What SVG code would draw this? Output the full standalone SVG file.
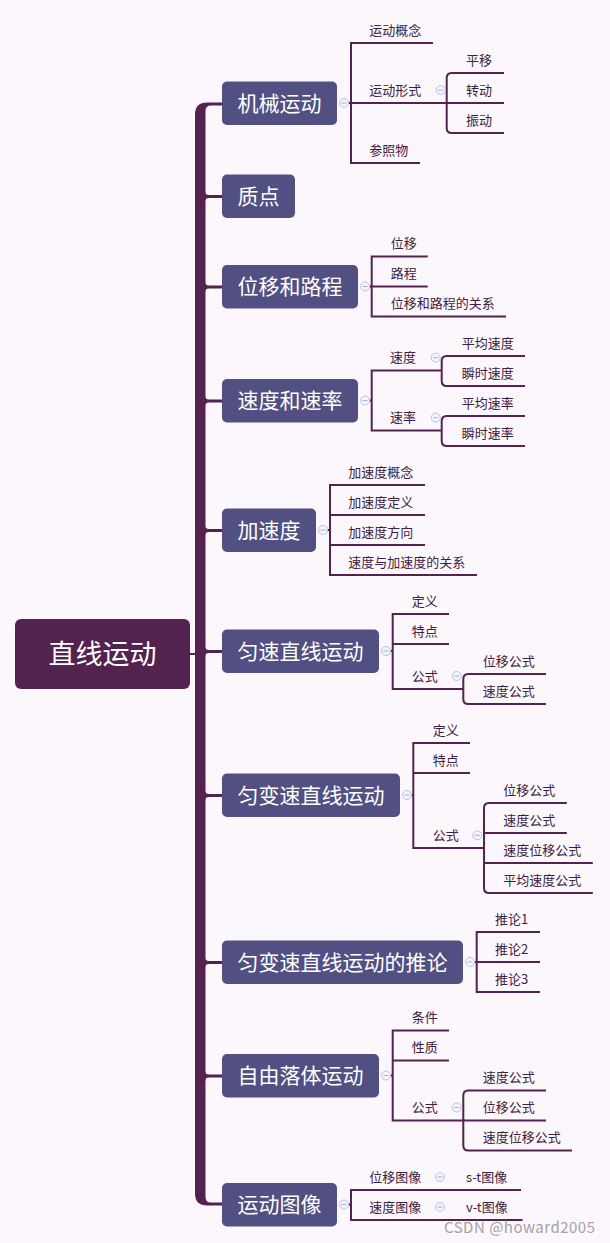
<svg xmlns="http://www.w3.org/2000/svg" width="610" height="1243" viewBox="0 0 610 1243">
<style>
text{font-family:"Noto Sans CJK SC","Noto Sans",sans-serif}
.mb{fill:#525083}
.mt{font-size:21px;fill:#ffffff;text-anchor:middle}
.st{font-size:13px;fill:#3d2240}
.ln{stroke:#53224f;stroke-width:2;fill:none}
.tr{fill:#53224f}
.cc{fill:#f5f4fc;stroke:#b5c5e6;stroke-width:1}
.cm{stroke:#9fb2da;stroke-width:1}
</style>
<defs>
<g id="col"><circle class="cc" cx="0" cy="0" r="4.5"/><line class="cm" x1="-2.5" y1="0" x2="2.5" y2="0"/></g>
</defs>
<rect x="0" y="0" width="610" height="1243" fill="#fcf7fd"/>

<g id="connectors">
<path class="tr" d="M222 102.5 H207 Q195 102.5 195 114.5 V1193.5 Q195 1205.5 207 1205.5 H222 V1202.5 H211 Q205.5 1202.5 205.5 1197 V111 Q205.5 105.5 211 105.5 H222 Z"/>
<path class="tr" d="M205 191 Q205 195 209 195 H222 V198 H209 Q205 198 205 202 Z"/>
<path class="tr" d="M205 281.5 Q205 285.5 209 285.5 H222 V288.5 H209 Q205 288.5 205 292.5 Z"/>
<path class="tr" d="M205 395.5 Q205 399.5 209 399.5 H222 V402.5 H209 Q205 402.5 205 406.5 Z"/>
<path class="tr" d="M205 525 Q205 529 209 529 H222 V532 H209 Q205 532 205 536 Z"/>
<path class="tr" d="M205 646 Q205 650 209 650 H222 V653 H209 Q205 653 205 657 Z"/>
<path class="tr" d="M205 790 Q205 794 209 794 H222 V797 H209 Q205 797 205 801 Z"/>
<path class="tr" d="M205 957 Q205 961 209 961 H222 V964 H209 Q205 964 205 968 Z"/>
<path class="tr" d="M205 1070.5 Q205 1074.5 209 1074.5 H222 V1077.5 H209 Q205 1077.5 205 1081.5 Z"/>
<path class="ln" d="M190 654 H196"/>

<!-- 机械运动 -->
<path class="ln" d="M348.5 103 H504"/>
<path class="ln" d="M433 43 H351 V163 H420"/>
<path class="ln" d="M504 73 H451.7 Q446.7 73 446.7 78 V128 Q446.7 133 451.7 133 H504"/>
<!-- 位移和路程 -->
<path class="ln" d="M369.5 286.5 H427.7"/>
<path class="ln" d="M427.7 256.5 H371.7 V316.5 H506"/>
<!-- 速度和速率 -->
<path class="ln" d="M369.5 400.5 H371.7"/>
<path class="ln" d="M441.7 370.5 H371.7 V430.5 H441.7"/>
<path class="ln" d="M525 356 H446.7 Q441.7 356 441.7 361 V381 Q441.7 386 446.7 386 H525"/>
<path class="ln" d="M525 416 H446.7 Q441.7 416 441.7 421 V441 Q441.7 446 446.7 446 H525"/>
<!-- 加速度 -->
<path class="ln" d="M326.5 530 H330"/>
<path class="ln" d="M425 485 H330 V575 H477"/>
<path class="ln" d="M330 515 H425 M330 545 H425"/>
<!-- 匀速直线运动 -->
<path class="ln" d="M390.5 651 H392.7"/>
<path class="ln" d="M449 614 H392.7 V689 H463.3"/>
<path class="ln" d="M392.7 644 H449"/>
<path class="ln" d="M546 674 H468.3 Q463.3 674 463.3 679 V699 Q463.3 704 468.3 704 H546"/>
<!-- 匀变速直线运动 -->
<path class="ln" d="M411.5 795 H413.3"/>
<path class="ln" d="M470 743 H413.3 V848 H484"/>
<path class="ln" d="M413.3 773 H470"/>
<path class="ln" d="M566.8 803 H489 Q484 803 484 808 V888 Q484 893 489 893 H592.8"/>
<path class="ln" d="M484 833 H566.8 M484 863 H592.8"/>
<!-- 推论 -->
<path class="ln" d="M474.5 962 H540"/>
<path class="ln" d="M540 932 H476.7 V992 H540"/>
<!-- 自由落体运动 -->
<path class="ln" d="M390.5 1075.5 H392.7"/>
<path class="ln" d="M449 1030.5 H392.7 V1120.5 H463.3"/>
<path class="ln" d="M392.7 1060.5 H449"/>
<path class="ln" d="M572 1150.5 H468.3 Q463.3 1150.5 463.3 1145.5 V1095.5 Q463.3 1090.5 468.3 1090.5 H546"/>
<path class="ln" d="M463.3 1120.5 H546"/>
<!-- 运动图像 -->
<path class="ln" d="M348.5 1204.5 H351"/>
<path class="ln" d="M521 1190 H351 V1220 H522.5"/>

<!-- collapse circles -->
<use href="#col" x="344" y="103"/>
<use href="#col" x="365" y="286.5"/>
<use href="#col" x="365" y="400.5"/>
<use href="#col" x="323" y="530"/>
<use href="#col" x="386" y="651"/>
<use href="#col" x="407" y="795"/>
<use href="#col" x="470" y="962"/>
<use href="#col" x="386" y="1075.5"/>
<use href="#col" x="344" y="1204.5"/>
<use href="#col" x="440.7" y="90"/>
<use href="#col" x="435.7" y="357.7"/>
<use href="#col" x="435.7" y="417.7"/>
<use href="#col" x="456.7" y="676"/>
<use href="#col" x="477.3" y="835.3"/>
<use href="#col" x="456.7" y="1107.5"/>
<use href="#col" x="440" y="1177"/>
<use href="#col" x="440" y="1207"/>
</g>

<g id="root">
<rect x="15" y="619" width="175" height="70" rx="6" fill="#53224f"/>
<text x="102.5" y="664" style="font-size:27px;fill:#ffffff;text-anchor:middle">直线运动</text>
</g>

<g id="n1"><rect class="mb" x="222" y="81.5" width="115" height="43.5" rx="5"/><text class="mt" x="279.5" y="110.5">机械运动</text></g>
<g id="n2"><rect class="mb" x="222" y="174.5" width="73" height="43.5" rx="5"/><text class="mt" x="258.5" y="203.5">质点</text></g>
<g id="n3"><rect class="mb" x="222" y="265" width="136" height="43.5" rx="5"/><text class="mt" x="290" y="294">位移和路程</text></g>
<g id="n4"><rect class="mb" x="222" y="379" width="136" height="43.5" rx="5"/><text class="mt" x="290" y="408">速度和速率</text></g>
<g id="n5"><rect class="mb" x="222" y="508.5" width="94" height="43.5" rx="5"/><text class="mt" x="269" y="537.5">加速度</text></g>
<g id="n6"><rect class="mb" x="222" y="629.5" width="157" height="43.5" rx="5"/><text class="mt" x="300.5" y="658.5">匀速直线运动</text></g>
<g id="n7"><rect class="mb" x="222" y="773.5" width="178" height="43.5" rx="5"/><text class="mt" x="311" y="802.5">匀变速直线运动</text></g>
<g id="n8"><rect class="mb" x="222" y="940.5" width="241" height="43.5" rx="5"/><text class="mt" x="342.5" y="969.5">匀变速直线运动的推论</text></g>
<g id="n9"><rect class="mb" x="222" y="1054" width="157" height="43.5" rx="5"/><text class="mt" x="300.5" y="1083">自由落体运动</text></g>
<g id="n10"><rect class="mb" x="222" y="1183" width="115" height="43.5" rx="5"/><text class="mt" x="279.5" y="1212">运动图像</text></g>

<g id="s1">
<text class="st" x="369.3" y="34.7">运动概念</text>
<text class="st" x="369.3" y="94.7">运动形式</text>
<text class="st" x="369.3" y="154.7">参照物</text>
<text class="st" x="466" y="64.7">平移</text>
<text class="st" x="466" y="94.7">转动</text>
<text class="st" x="466" y="124.7">振动</text>
</g>
<g id="s3">
<text class="st" x="390.7" y="248.2">位移</text>
<text class="st" x="390.7" y="278.2">路程</text>
<text class="st" x="390.7" y="308.2">位移和路程的关系</text>
</g>
<g id="s4">
<text class="st" x="390" y="362.2">速度</text>
<text class="st" x="390" y="422.2">速率</text>
<text class="st" x="461.7" y="347.7">平均速度</text>
<text class="st" x="461.7" y="377.7">瞬时速度</text>
<text class="st" x="461.7" y="407.7">平均速率</text>
<text class="st" x="461.7" y="437.7">瞬时速率</text>
</g>
<g id="s5">
<text class="st" x="348.3" y="476.7">加速度概念</text>
<text class="st" x="348.3" y="506.7">加速度定义</text>
<text class="st" x="348.3" y="536.7">加速度方向</text>
<text class="st" x="348.3" y="566.7">速度与加速度的关系</text>
</g>
<g id="s6">
<text class="st" x="411.7" y="605.7">定义</text>
<text class="st" x="411.7" y="635.7">特点</text>
<text class="st" x="411.7" y="680.7">公式</text>
<text class="st" x="482.7" y="665.7">位移公式</text>
<text class="st" x="482.7" y="695.7">速度公式</text>
</g>
<g id="s7">
<text class="st" x="432.7" y="734.7">定义</text>
<text class="st" x="432.7" y="764.7">特点</text>
<text class="st" x="432.7" y="839.7">公式</text>
<text class="st" x="503.3" y="794.7">位移公式</text>
<text class="st" x="503.3" y="824.7">速度公式</text>
<text class="st" x="503.3" y="854.7">速度位移公式</text>
<text class="st" x="503.3" y="884.7">平均速度公式</text>
</g>
<g id="s8">
<text class="st" x="495" y="923.7">推论1</text>
<text class="st" x="495" y="953.7">推论2</text>
<text class="st" x="495" y="983.7">推论3</text>
</g>
<g id="s9">
<text class="st" x="411.7" y="1022.2">条件</text>
<text class="st" x="411.7" y="1052.2">性质</text>
<text class="st" x="411.7" y="1112.2">公式</text>
<text class="st" x="482.7" y="1082.2">速度公式</text>
<text class="st" x="482.7" y="1112.2">位移公式</text>
<text class="st" x="482.7" y="1142.2">速度位移公式</text>
</g>
<g id="s10">
<text class="st" x="369.3" y="1181.7">位移图像</text>
<text class="st" x="369.3" y="1211.7">速度图像</text>
<text class="st" x="466" y="1181.7">s-t图像</text>
<text class="st" x="466" y="1211.7">v-t图像</text>
</g>
<text x="444" y="1232.5" style="font-size:15px;fill:#a3a3a3" textLength="151">CSDN @howard2005</text>
</svg>
